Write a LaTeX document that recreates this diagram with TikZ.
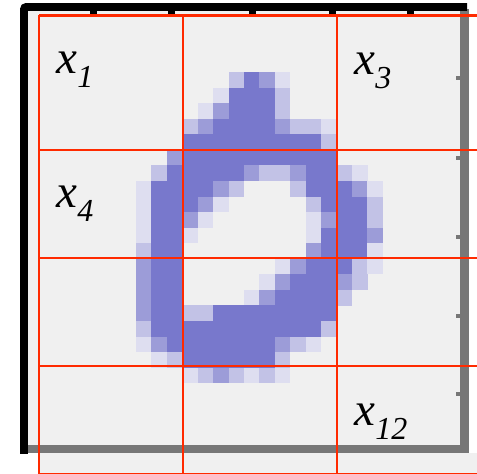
\documentclass[tikz,border=0pt]{standalone}
\usepackage{fontspec}
\setmainfont{Liberation Serif}
\usetikzlibrary{positioning}
\definecolor{pxbg}{HTML}{F0F0F0}
\definecolor{pxlv1}{HTML}{DEDEF0}
\definecolor{pxlv2}{HTML}{C2C2E6}
\definecolor{pxlv3}{HTML}{9C9CD8}
\definecolor{pxlv4}{HTML}{7878CC}
\definecolor{gridred}{HTML}{FF2A00}
\definecolor{framegray}{HTML}{777777}
\tikzset{
  gridline/.style={draw=gridred, line width=1.4pt},
  frameblack/.style={draw=black, line width=3.8pt, rounded corners=1pt},
  framegrey/.style={draw=framegray, line width=4.2pt},
  cellname/.style={anchor=base west, inner sep=0pt, font=\fontsize{23.5}{23.5}\selectfont\itshape}
}
\newcommand{\xsub}[1]{x\raisebox{-7pt}{\fontsize{16}{16}\selectfont\itshape #1}}

\begin{document}
\begin{tikzpicture}[x=0.5pt,y=-0.5pt]
    \useasboundingbox (0,0) rectangle (477,474);
    \fill[white] (0,0) rectangle (477,474);
    \fill[pxbg] (28,10) rectangle (460,445);
    \fill[pxbg] (39,453) rectangle (477,474);

    % digit, one row of pixels per entry (columns 7 to 23)
    \foreach \r/\row in {
        4/{0,0,0,0,0,0,2,4,3,1,0,0,0,0,0,0,0},
        5/{0,0,0,0,0,1,4,4,4,2,0,0,0,0,0,0,0},
        6/{0,0,0,0,1,3,4,4,4,2,0,0,0,0,0,0,0},
        7/{0,0,0,2,3,4,4,4,4,3,2,2,1,0,0,0,0},
        8/{0,0,0,4,4,4,4,4,4,4,4,4,2,0,0,0,0},
        9/{0,0,3,4,4,4,4,4,4,4,4,4,4,0,0,0,0},
        10/{0,2,4,4,4,4,4,3,2,2,3,4,4,2,1,0,0},
        11/{1,4,4,4,4,3,2,0,0,0,2,4,4,4,3,1,0},
        12/{1,4,4,4,3,1,0,0,0,0,0,2,4,4,4,2,0},
        13/{1,4,4,3,1,0,0,0,0,0,0,1,3,4,4,2,0},
        14/{1,4,4,1,0,0,0,0,0,0,0,1,4,4,4,3,0},
        15/{2,4,4,0,0,0,0,0,0,0,0,3,4,4,4,1,0},
        16/{3,4,4,0,0,0,0,0,0,1,3,4,4,4,2,1,0},
        17/{3,4,4,0,0,0,0,0,1,3,4,4,4,3,2,0,0},
        18/{3,4,4,0,0,0,0,1,3,4,4,4,4,2,0,0,0},
        19/{3,4,4,2,2,4,4,4,4,4,4,4,4,0,0,0,0},
        20/{2,4,4,4,4,4,4,4,4,4,4,4,2,0,0,0,0},
        21/{1,3,4,4,4,4,4,4,4,3,2,1,0,0,0,0,0},
        22/{0,1,2,4,4,4,4,4,4,2,0,0,0,0,0,0,0},
        23/{0,0,0,1,2,3,2,1,2,1,0,0,0,0,0,0,0}}
        \foreach \v [count=\c from 7] in \row {
            \ifnum\v>0
                \fill[pxlv\v] ({28+15.43*\c},{10+15.55*\r}) rectangle ++(15.6,15.7);
            \fi
        };

    % frame
    \draw[framegrey] (464.5,9) -- (464.5,449) -- (26,449);
    \foreach \t in {78,158,237,316,394}
        \draw[framegray, line width=2pt] (456,\t) -- (462,\t);
    \draw[frameblack] (24,454) -- (24,7) -- (467,7);
    \foreach \t in {93,171,252,332,410}
        \draw[black, line width=3.5pt] (\t,8) -- (\t,15);

    \node[cellname] (xone) at (56,74) {\xsub{1}};
    \node[cellname] (xthree) at (354,75) {\xsub{3}};
    \node[cellname] (xfour) at (56,208) {\xsub{4}};
    \node[cellname] (xtwelve) at (354,426) {\xsub{12}};

    % red grid
    \foreach \gx in {39,183,337}
        \draw[gridline] (\gx,15.5) -- (\gx,474);
    \foreach \gy in {15.5,150,258,366,474}
        \draw[gridline] (39,\gy) -- (477,\gy);
\end{tikzpicture}
\end{document}
